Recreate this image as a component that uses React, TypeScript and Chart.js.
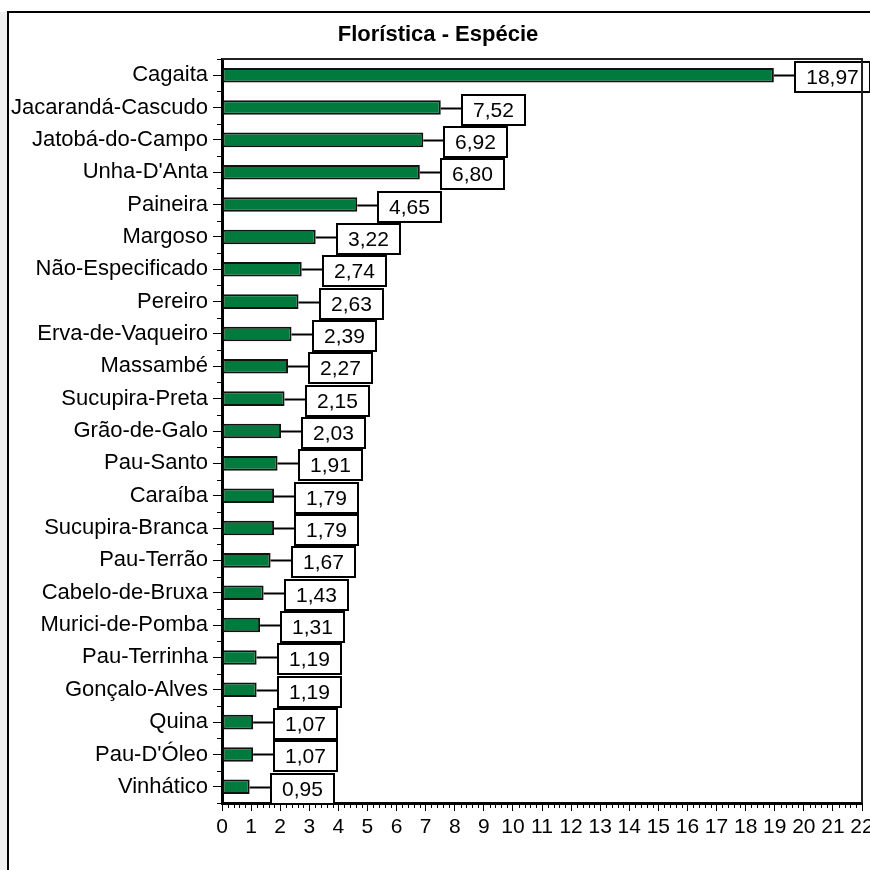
import React, { useEffect, useRef } from "react";
import { Chart, registerables } from "chart.js";

Chart.register(...registerables);

const categories = [
  "Cagaita",
  "Jacarandá-Cascudo",
  "Jatobá-do-Campo",
  "Unha-D'Anta",
  "Paineira",
  "Margoso",
  "Não-Especificado",
  "Pereiro",
  "Erva-de-Vaqueiro",
  "Massambé",
  "Sucupira-Preta",
  "Grão-de-Galo",
  "Pau-Santo",
  "Caraíba",
  "Sucupira-Branca",
  "Pau-Terrão",
  "Cabelo-de-Bruxa",
  "Murici-de-Pomba",
  "Pau-Terrinha",
  "Gonçalo-Alves",
  "Quina",
  "Pau-D'Óleo",
  "Vinhático",
];

const values = [
  18.97, 7.52, 6.92, 6.8, 4.65, 3.22, 2.74, 2.63, 2.39, 2.27, 2.15, 2.03, 1.91,
  1.79, 1.79, 1.67, 1.43, 1.31, 1.19, 1.19, 1.07, 1.07, 0.95,
];

const xMin = 0;
const xMax = 22;
const title = "Florística - Espécie";

const FONT = "'Liberation Sans', Arial, sans-serif";

const fmt = (v: number) => v.toFixed(2).replace(".", ",");

const framePlugin = {
  id: "frame",
  beforeDraw(chart: any) {
    const ctx = chart.ctx;
    ctx.save();
    ctx.fillStyle = "#ffffff";
    ctx.fillRect(0, 0, chart.width, chart.height);
    ctx.fillStyle = "#f0f0f0";
    ctx.fillRect(0, 12, 7, chart.height - 12);
    ctx.strokeStyle = "#000";
    ctx.lineWidth = 2;
    ctx.beginPath();
    ctx.moveTo(8, chart.height);
    ctx.lineTo(8, 12);
    ctx.lineTo(chart.width, 12);
    ctx.stroke();
    ctx.restore();
  },
  afterDraw(chart: any) {
    const ctx = chart.ctx;
    const a = chart.chartArea;
    ctx.save();
    // title
    ctx.fillStyle = "#000";
    ctx.font = `bold 22px ${FONT}`;
    ctx.textAlign = "center";
    ctx.textBaseline = "middle";
    ctx.fillText(title, 438, 35);
    // top and right borders of plot
    ctx.strokeStyle = "#222";
    ctx.lineWidth = 2;
    ctx.beginPath();
    ctx.moveTo(a.left, a.top);
    ctx.lineTo(a.right, a.top);
    ctx.lineTo(a.right, a.bottom);
    ctx.stroke();
    // minor ticks x
    const xs = chart.scales.x;
    ctx.strokeStyle = "#000";
    ctx.lineWidth = 1;
    ctx.beginPath();
    for (let i = xMin * 5; i <= xMax * 5; i++) {
      if (i % 5 === 0) continue;
      const px = Math.round(xs.getPixelForValue(i / 5)) + 0.5;
      ctx.moveTo(px, a.bottom + 1);
      ctx.lineTo(px, a.bottom + 5);
    }
    // minor ticks y (category boundaries)
    const ys = chart.scales.y;
    for (let i = 0; i <= categories.length; i++) {
      const py = Math.round(ys.getPixelForValue(i - 0.5)) + 0.5;
      ctx.moveTo(a.left - 1, py);
      ctx.lineTo(a.left - 5, py);
    }
    ctx.stroke();
    ctx.restore();
  },
};

const labelPlugin = {
  id: "valueBoxes",
  afterDatasetsDraw(chart: any) {
    const ctx = chart.ctx;
    const meta = chart.getDatasetMeta(0);
    ctx.save();
    ctx.font = `21px ${FONT}`;
    ctx.textAlign = "center";
    ctx.textBaseline = "middle";
    meta.data.forEach((bar: any, i: number) => {
      const v = chart.data.datasets[0].data[i] as number;
      const text = fmt(v);
      const tw = ctx.measureText(text).width;
      const x = bar.x;
      const y = bar.y;
      const gap = 21;
      const w = Math.round(tw + 22);
      const h = 30;
      const left = Math.round(x + gap);
      const top = Math.round(y - 13);
      ctx.strokeStyle = "#000";
      ctx.lineWidth = 2;
      ctx.beginPath();
      ctx.moveTo(x, Math.round(y) + 0.5);
      ctx.lineTo(left, Math.round(y) + 0.5);
      ctx.stroke();
      ctx.fillStyle = "#fff";
      ctx.fillRect(left, top, w, h);
      ctx.strokeRect(left, top, w, h);
      ctx.fillStyle = "#000";
      ctx.fillText(text, left + w / 2, top + h / 2 + 1);
    });
    ctx.restore();
  },
};

export default function App() {
  const ref = useRef<HTMLCanvasElement | null>(null);

  useEffect(() => {
    document.body.style.margin = "0";
    if (!ref.current) return;
    const chart = new Chart(ref.current, {
      type: "bar",
      data: {
        labels: categories,
        datasets: [
          {
            data: values,
            backgroundColor: "#007a3d",
            borderColor: "#111",
            borderWidth: 2,
            borderSkipped: false,
            barPercentage: 0.45,
            categoryPercentage: 1,
          },
        ],
      },
      options: {
        indexAxis: "y",
        animation: false,
        responsive: false,
        devicePixelRatio: 1,
        layout: { padding: { top: 59, right: 8, left: 0, bottom: 0 } },
        plugins: {
          legend: { display: false },
          tooltip: { enabled: false },
          title: { display: false },
        },
        scales: {
          x: {
            type: "linear",
            min: xMin,
            max: xMax,
            ticks: {
              stepSize: 1,
              color: "#000",
              font: { family: FONT, size: 21 },
              padding: 4,
              maxRotation: 0,
              autoSkip: false,
            },
            grid: {
              drawOnChartArea: false,
              drawTicks: true,
              tickLength: 8,
              color: "#000",
              lineWidth: 1,
            },
            border: { display: true, color: "#000", width: 3 },
            afterFit: (s: any) => {
              s.height = 67;
              s.paddingLeft = 0;
              s.paddingRight = 0;
            },
          },
          y: {
            type: "category",
            offset: true,
            ticks: {
              color: "#000",
              font: { family: FONT, size: 22 },
              padding: 5,
              autoSkip: false,
            },
            grid: {
              offset: false,
              drawOnChartArea: false,
              drawTicks: true,
              tickLength: 9,
              color: "#000",
              lineWidth: 1,
            },
            border: { display: true, color: "#000", width: 3 },
            afterFit: (s: any) => {
              s.width = 222;
              s.paddingTop = 0;
              s.paddingBottom = 0;
            },
          },
        },
      },
      plugins: [framePlugin, labelPlugin],
    } as any);
    return () => chart.destroy();
  }, []);

  return (
    <div style={{ position: "absolute", left: 0, top: 0 }}>
      <canvas ref={ref} width={870} height={870} style={{ width: 870, height: 870 }} />
    </div>
  );
}
